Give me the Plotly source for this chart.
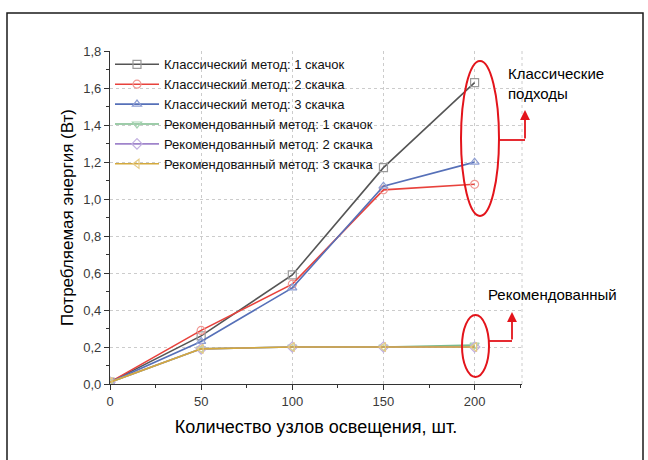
import plotly.graph_objects as go

nodes = [0, 50, 100, 150, 200]
classic_1 = [0.01, 0.26, 0.59, 1.17, 1.63]
classic_2 = [0.01, 0.29, 0.54, 1.05, 1.08]
classic_3 = [0.01, 0.23, 0.52, 1.07, 1.20]
recom_1 = [0.01, 0.19, 0.20, 0.20, 0.21]
recom_2 = [0.01, 0.19, 0.20, 0.20, 0.20]
recom_3 = [0.01, 0.19, 0.20, 0.20, 0.20]

names = [
    "Классический метод: 1 скачок",
    "Классический метод: 2 скачка",
    "Классический метод: 3 скачка",
    "Рекомендованный метод: 1 скачок",
    "Рекомендованный метод: 2 скачка",
    "Рекомендованный метод: 3 скачка",
]
series = [classic_1, classic_2, classic_3, recom_1, recom_2, recom_3]
line_colors = ["#555555", "#e8423c", "#5670b8", "#7cbb8c", "#9f84cb", "#d4a93c"]
edge_colors = ["#9a9a9a", "#f09a95", "#8d9dd3", "#a5d3b1", "#c2b0e0", "#e6cb85"]
symbols = ["square-open", "circle-open", "triangle-up-open", "triangle-down-open",
           "diamond-open", "triangle-left-open"]

fig = go.Figure()
for name, ys, lc, ec, sym in zip(names, series, line_colors, edge_colors, symbols):
    fig.add_trace(go.Scatter(
        x=nodes, y=ys, name=name, mode="lines+markers",
        line=dict(color=lc, width=1.6),
        marker=dict(symbol=sym, size=8, color=ec, line=dict(color=ec, width=1.2)),
    ))

RED = "#e3141b"
FONT = "Liberation Sans, Arial, sans-serif"

def px(xpix):
    return (xpix - 110) / 412.0

def py(ypix):
    return (384 - ypix) / 333.0

shapes = [
    # outer frame
    dict(type="rect", xref="paper", yref="paper", x0=px(7), x1=px(643), y0=py(480), y1=py(13),
         line=dict(color="#1a1a1a", width=1.5)),
    # dotted right border of plot
    dict(type="line", xref="paper", yref="paper", x0=1, x1=1, y0=0, y1=1,
         line=dict(color="#cccccc", width=1, dash="dot")),
    # ellipses
    dict(type="circle", xref="paper", yref="paper", x0=px(461), x1=px(499), y0=py(216), y1=py(61),
         line=dict(color=RED, width=2)),
    dict(type="circle", xref="paper", yref="paper", x0=px(462), x1=px(489), y0=py(377), y1=py(315),
         line=dict(color=RED, width=2)),
    # brackets
    dict(type="line", xref="paper", yref="paper", x0=px(499), x1=px(525), y0=py(140), y1=py(140),
         line=dict(color=RED, width=1.8)),
    dict(type="line", xref="paper", yref="paper", x0=px(489), x1=px(512), y0=py(341), y1=py(341),
         line=dict(color=RED, width=1.8)),
]

annotations = [
    dict(xref="paper", yref="paper", x=px(525), y=py(110), ax=0, ay=30, axref="pixel", ayref="pixel",
         showarrow=True, arrowhead=2, arrowsize=1.1, arrowwidth=1.8, arrowcolor=RED, text=""),
    dict(xref="paper", yref="paper", x=px(512), y=py(312), ax=0, ay=29, axref="pixel", ayref="pixel",
         showarrow=True, arrowhead=2, arrowsize=1.1, arrowwidth=1.8, arrowcolor=RED, text=""),
    dict(xref="paper", yref="paper", x=px(506), y=py(83), xanchor="left", yanchor="middle",
         showarrow=False, align="left", text="Классические<br>подходы",
         font=dict(family=FONT, size=15, color="#000000")),
    dict(xref="paper", yref="paper", x=px(486), y=py(294), xanchor="left", yanchor="middle",
         showarrow=False, align="left", text="Рекомендованный",
         font=dict(family=FONT, size=15, color="#000000")),
]

fig.update_layout(
    width=648, height=460,
    margin=dict(l=110, r=126, t=51, b=76),
    paper_bgcolor="white", plot_bgcolor="white",
    separators=", ",
    font=dict(family=FONT, size=12, color="#3a3a3a"),
    showlegend=True,
    legend=dict(x=0.0, y=1.005, xanchor="left", yanchor="top", bgcolor="rgba(0,0,0,0)",
                itemwidth=44,
                font=dict(family=FONT, size=13, color="#111111"), tracegroupgap=0),
    xaxis=dict(
        range=[0, 226], tickvals=[0, 50, 100, 150, 200],
        showline=True, linecolor="#333333", linewidth=1.2,
        ticks="outside", ticklen=5, tickcolor="#333333",
        minor=dict(ticks="outside", ticklen=3, dtick=25, tick0=0, tickcolor="#333333", showgrid=False),
        showgrid=True, gridcolor="#cccccc", griddash="dot", gridwidth=1,
        zeroline=False,
        tickfont=dict(family=FONT, size=13, color="#3a3a3a"),
        title=dict(text="Количество узлов освещения, шт.", standoff=12,
                   font=dict(family=FONT, size=18, color="#000000")),
    ),
    yaxis=dict(
        range=[0, 1.801], dtick=0.2, tick0=0, tickformat=".1f",
        showline=True, linecolor="#333333", linewidth=1.2,
        ticks="outside", ticklen=5, tickcolor="#333333",
        minor=dict(ticks="outside", ticklen=3, dtick=0.1, tick0=0, tickcolor="#333333", showgrid=False),
        showgrid=True, gridcolor="#cccccc", griddash="dot", gridwidth=1,
        zeroline=False,
        tickfont=dict(family=FONT, size=13, color="#3a3a3a"),
        title=dict(text="Потребляемая энергия (Вт)", standoff=5,
                   font=dict(family=FONT, size=17, color="#000000")),
    ),
    shapes=shapes,
    annotations=annotations,
)

fig.write_html("out.html")
